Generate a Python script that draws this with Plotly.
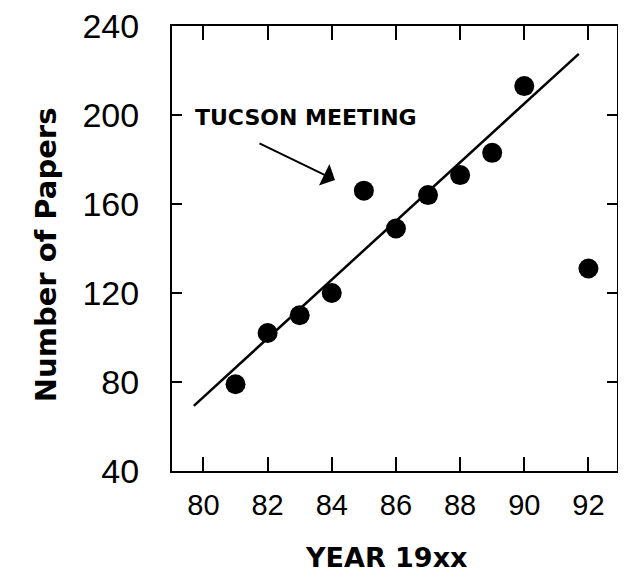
import plotly.graph_objects as go

# Data
years = [81, 82, 83, 84, 85, 86, 87, 88, 89, 90, 92]
papers = [79, 102, 110, 120, 166, 149, 164, 173, 183, 213, 131]

# Fitted trend line endpoints (as drawn)
fit_x = [79.7, 91.7]
fit_y = [69.3, 227.5]

x_ticks = [80, 82, 84, 86, 88, 90, 92]
y_ticks = [40, 80, 120, 160, 200, 240]

x_title = "YEAR 19xx"
y_title = "Number of Papers"
note_text = "TUCSON MEETING"
note_text_pos = (79.68, 199.0)
note_tip = (84.1, 170.8)
note_tail = (81.7, 187.6)

fig = go.Figure()
fig.add_trace(go.Scatter(x=fit_x, y=fit_y, mode="lines",
                         line=dict(color="black", width=2.5),
                         showlegend=False, hoverinfo="skip"))
fig.add_trace(go.Scatter(x=years, y=papers, mode="markers",
                         marker=dict(color="black", size=20),
                         showlegend=False))

fig.add_annotation(x=note_text_pos[0], y=note_text_pos[1], xref="x", yref="y",
                   text="<b>" + note_text + "</b>", showarrow=False,
                   xanchor="left", yanchor="middle",
                   font=dict(family="DejaVu Sans", size=22, color="black"))
fig.add_annotation(x=note_tip[0], y=note_tip[1], ax=note_tail[0], ay=note_tail[1],
                   xref="x", yref="y", axref="x", ayref="y", text="",
                   showarrow=True, arrowhead=1, arrowsize=2.0, arrowwidth=2,
                   arrowcolor="black")

# Axis titles
fig.add_annotation(x=0.481, y=-0.195, xref="paper", yref="paper",
                   text="<b>" + x_title + "</b>", showarrow=False,
                   xanchor="center", yanchor="middle",
                   font=dict(family="DejaVu Sans", size=27, color="black"))
fig.add_annotation(x=-0.283, y=0.485, xref="paper", yref="paper",
                   text="<b>" + y_title + "</b>", showarrow=False, textangle=-90,
                   xanchor="center", yanchor="middle",
                   font=dict(family="DejaVu Sans", size=29, color="black"))

axis_common = dict(showgrid=False, zeroline=False, showline=True, linecolor="black",
                   linewidth=2, mirror="ticks", ticks="inside", tickcolor="black",
                   tickwidth=2, automargin=False, ticklabeloverflow="allow")

fig.update_xaxes(range=[79.02, 92.89], tickvals=x_ticks, ticklen=14,
                 ticklabelstandoff=7,
                 tickfont=dict(family="Liberation Sans", size=29, color="black"),
                 **axis_common)
fig.update_yaxes(range=[40, 240], tickvals=y_ticks, ticklen=10,
                 ticklabelstandoff=24,
                 tickfont=dict(family="Liberation Sans", size=34, color="black"),
                 **axis_common)

# page body adds an 8px offset, so the figure is placed accordingly
fig.update_layout(width=612, height=567,
                  margin=dict(l=164, r=3, t=18, b=104),
                  plot_bgcolor="white", paper_bgcolor="white")

fig.write_html("out.html")
